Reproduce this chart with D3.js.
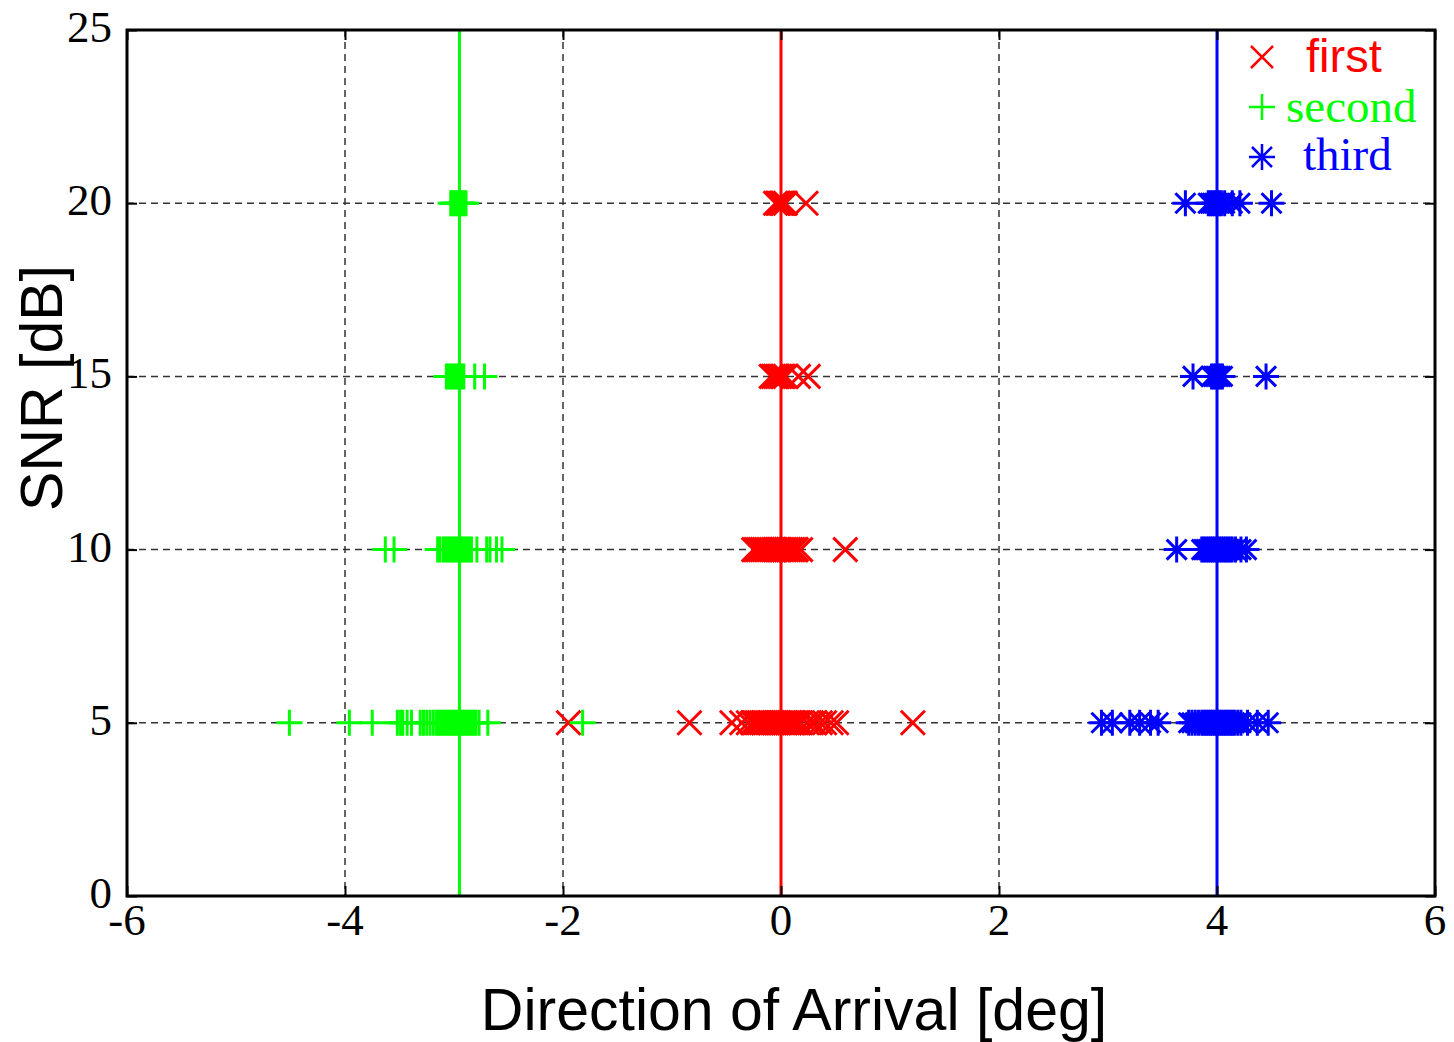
<!DOCTYPE html>
<html><head><meta charset="utf-8">
<script src="https://cdn.jsdelivr.net/npm/d3@7"></script>
<style>body{margin:0;background:#fff}</style>
</head><body>
<script>
// ---- data ----
const xTicks = [-6,-4,-2,0,2,4,6];
const yTicks = [0,5,10,15,20,25];
const seriesNames = ["first","second","third"];
const trueDOA = {first:0, second:-2.95, third:4};

const first5  = [-1.95,-0.84,-0.45,-0.36,-0.30,-0.26,-0.24,-0.22,-0.20,-0.18,-0.16,-0.14,-0.12,-0.10,-0.08,-0.06,-0.04,-0.02,0.00,0.02,0.04,0.06,0.08,0.10,0.12,0.14,0.16,0.18,0.24,0.28,0.31,0.36,0.40,0.46,0.51,1.21];
const first10 = [-0.25,-0.23,-0.21,-0.19,-0.17,-0.15,-0.13,-0.11,-0.09,-0.07,-0.05,-0.03,-0.01,0.01,0.03,0.05,0.07,0.09,0.11,0.13,0.14,0.18,0.59];
const first15 = [-0.09,-0.07,-0.05,-0.03,-0.01,0.01,0.02,0.04,0.16,0.25];
const first20 = [-0.05,-0.03,-0.02,0.00,0.01,0.02,0.04,0.23];

const second5  = [-4.51,-3.96,-3.75,-3.52,-3.49,-3.47,-3.43,-3.39,-3.31,-3.28,-3.25,-3.22,-3.19,-3.16,-3.14,-3.12,-3.10,-3.08,-3.06,-3.04,-3.02,-3.00,-2.98,-2.96,-2.94,-2.92,-2.90,-2.88,-2.86,-2.84,-2.82,-2.80,-2.77,-2.69,-1.82];
const second10 = [-3.63,-3.55,-3.15,-3.13,-3.10,-3.08,-3.06,-3.04,-3.02,-3.00,-2.98,-2.96,-2.94,-2.92,-2.90,-2.88,-2.86,-2.84,-2.79,-2.70,-2.67,-2.61,-2.56];
const second15 = [-3.07,-3.05,-3.03,-3.01,-2.99,-2.97,-2.95,-2.93,-2.91,-2.81,-2.72];
const second20 = [-3.03,-3.01,-2.99,-2.97,-2.95,-2.93,-2.91,-2.89];

const third5  = [2.94,3.04,3.20,3.29,3.39,3.46,3.74,3.77,3.80,3.83,3.86,3.88,3.90,3.92,3.94,3.96,3.98,4.00,4.02,4.04,4.06,4.08,4.10,4.12,4.14,4.16,4.19,4.22,4.28,4.37,4.47];
const third10 = [3.63,3.86,3.88,3.90,3.92,3.94,3.96,3.98,4.00,4.02,4.04,4.06,4.08,4.10,4.12,4.14,4.17,4.22,4.27];
const third15 = [3.78,3.95,3.97,3.99,4.01,4.03,4.05,4.45];
const third20 = [3.71,3.92,3.94,3.96,3.98,4.00,4.02,4.04,4.07,4.14,4.21,4.50];

const snrLevels = [5,10,15,20];
const data = {
  first:  [first5, first10, first15, first20],
  second: [second5, second10, second15, second20],
  third:  [third5, third10, third15, third20]
};
const colors = {first:"#ff0000", second:"#00ff00", third:"#0000ff"};

// ---- layout ----
const W=1454,H=1042, L=127, T=30, R=1435, B=896;
const svg = d3.select("body").append("svg").attr("width",W).attr("height",H);
const x = d3.scaleLinear().domain([-6,6]).range([L,R]);
const y = d3.scaleLinear().domain([0,25]).range([B,T]);
const serif = "'Liberation Serif','Times New Roman',serif";
const sans = "'Liberation Sans',Arial,sans-serif";

// grid
const g = svg.append("g");
g.selectAll(".gx").data(xTicks.filter(d=>d>-6&&d<6)).enter().append("line")
  .attr("x1",d=>x(d)).attr("x2",d=>x(d)).attr("y1",T).attr("y2",B)
  .attr("stroke","#333").attr("stroke-width",1.5).attr("stroke-dasharray","7,5");
g.selectAll(".gy").data(yTicks.filter(d=>d>0&&d<25)).enter().append("line")
  .attr("y1",d=>y(d)).attr("y2",d=>y(d)).attr("x1",L).attr("x2",R)
  .attr("stroke","#333").attr("stroke-width",1.5).attr("stroke-dasharray","7,5");

// markers
function markerPath(type){
  if(type==="first") return "M-12,-12L12,12M-12,12L12,-12";
  if(type==="second") return "M-13,0L13,0M0,-13L0,13";
  const d=10;
  return `M-13,0L13,0M0,-13L0,13M${-d},${-d}L${d},${d}M${-d},${d}L${d},${-d}`;
}
seriesNames.forEach(name=>{
  const pts=[];
  data[name].forEach((arr,i)=>arr.forEach(v=>pts.push([v,snrLevels[i]])));
  svg.append("g").selectAll("path").data(pts).enter().append("path")
    .attr("transform",d=>`translate(${x(d[0])},${y(d[1])})`)
    .attr("d",markerPath(name))
    .attr("fill","none").attr("stroke",colors[name]).attr("stroke-width",3);
});

// true DOA lines
seriesNames.forEach(name=>{
  svg.append("line").attr("x1",x(trueDOA[name])).attr("x2",x(trueDOA[name]))
    .attr("y1",T).attr("y2",B).attr("stroke",colors[name]).attr("stroke-width",3);
});

// axes box
svg.append("rect").attr("x",L).attr("y",T).attr("width",R-L).attr("height",B-T)
  .attr("fill","none").attr("stroke","#000").attr("stroke-width",3);
// inward ticks
const xa = d3.axisBottom(x).tickValues(xTicks).tickSize(-10).tickFormat("");
const xt = d3.axisTop(x).tickValues(xTicks).tickSize(-10).tickFormat("");
const ya = d3.axisLeft(y).tickValues(yTicks).tickSize(-10).tickFormat("");
const yr = d3.axisRight(y).tickValues(yTicks).tickSize(-10).tickFormat("");
[[xa,`translate(0,${B})`],[xt,`translate(0,${T})`],[ya,`translate(${L},0)`],[yr,`translate(${R},0)`]].forEach(([a,t])=>{
  const gg=svg.append("g").attr("transform",t).call(a);
  gg.select(".domain").remove();
  gg.selectAll("line").attr("stroke","#000").attr("stroke-width",2);
});

// tick labels
svg.append("g").selectAll("text").data(xTicks).enter().append("text")
  .attr("x",d=>x(d)).attr("y",935).attr("text-anchor","middle")
  .attr("font-family",serif).attr("font-size",45).text(d=>d);
svg.append("g").selectAll("text").data(yTicks).enter().append("text")
  .attr("x",112).attr("y",d=>y(d)+12).attr("text-anchor","end")
  .attr("font-family",serif).attr("font-size",45).text(d=>d);

// axis labels
svg.append("text").attr("x",794).attr("y",1030).attr("text-anchor","middle")
  .attr("font-family",sans).attr("font-size",59).text("Direction of Arrival [deg]");
svg.append("text").attr("transform","translate(62,388) rotate(-90)").attr("text-anchor","middle")
  .attr("font-family",sans).attr("font-size",59).text("SNR [dB]");

// legend
const leg = [
  {name:"first", label:"first", sy:57, by:72, tx:1306, font:sans},
  {name:"second", label:"second", sy:107, by:122, tx:1286, font:serif},
  {name:"third", label:"third", sy:157, by:170, tx:1303, font:serif}
];
leg.forEach(l=>{
  svg.append("path").attr("transform",`translate(1262,${l.sy})`)
    .attr("d", l.name==="first" ? "M-11,-11L11,11M-11,11L11,-11" : markerPath(l.name))
    .attr("fill","none").attr("stroke",colors[l.name]).attr("stroke-width",2.5);
  svg.append("text").attr("x",l.tx).attr("y",l.by).attr("font-family",l.font)
    .attr("font-size",47).attr("fill",colors[l.name]).text(l.label);
});
</script>
</body></html>
